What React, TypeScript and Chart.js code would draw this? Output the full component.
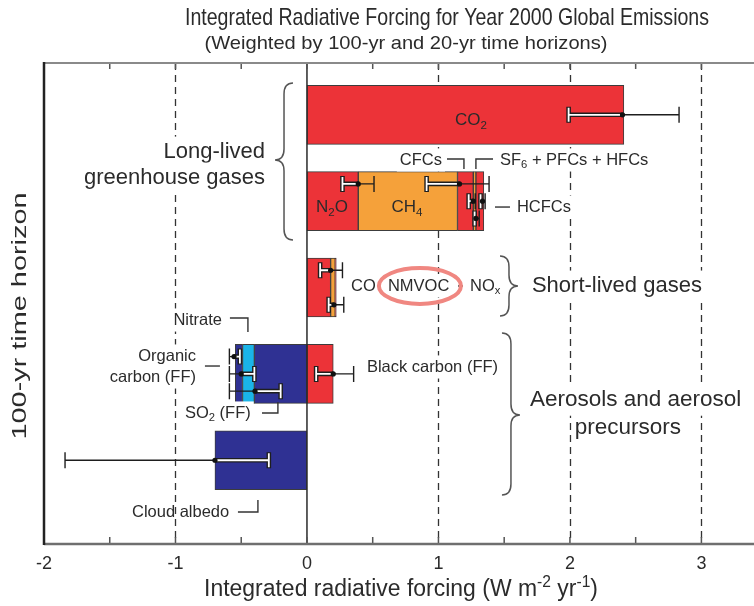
import React, { useEffect, useRef } from 'react';
import { Chart, registerables } from 'chart.js';

Chart.register(...registerables);

// ---------------- data ----------------
const rowNames = ['Carbon dioxide', 'Long-lived greenhouse gases', 'Short-lived gases', 'Aerosols and aerosol precursors', 'Cloud albedo'];
const components = ['CO₂', 'N₂O', 'CH₄', 'CFCs', 'SF₆ + PFCs + HFCs', 'HCFCs', 'CO', 'NMVOC', 'NOₓ', 'SO₂ (FF)', 'Organic carbon (FF)', 'Nitrate', 'Black carbon (FF)', 'Cloud albedo'];
const componentRow = [0, 1, 1, 1, 1, 1, 2, 2, 2, 3, 3, 3, 3, 4];
const forcing = [2.41, 0.39, 0.755, 0.12, 0.02, 0.06, 0.18, 0.035, 0.008, -0.40, -0.09, -0.055, 0.20, -0.70];
const errLow: (number | null)[] = [1.99, 0.27, 0.91, 1.23, 1.275, 1.32, 0.10, 0.165, null, -0.59, -0.59, -0.59, 0.07, -1.84];
const errMid: (number | null)[] = [2.40, 0.39, 1.16, 1.265, 1.285, 1.335, 0.18, 0.205, null, -0.395, -0.50, -0.555, 0.20, -0.70];
const errHigh: (number | null)[] = [2.83, 0.51, 1.385, 1.28, 1.31, 1.355, 0.27, 0.28, null, -0.20, -0.40, -0.51, 0.355, -0.29];
const errLane = [0, -1, -1, 0, 1, 0, -1, 1, 0, 1, 0, -1, 0, 0];
const xTicks = [-2, -1, 0, 1, 2, 3];
const dashedAt = [-1, 1, 2, 3];

const RED = '#ec3338';
const ORANGE = '#f5a13a';
const NAVY = '#2f3193';
const CYAN = '#1ab4e8';
const componentColor = [RED, RED, ORANGE, RED, ORANGE, RED, RED, ORANGE, RED, NAVY, CYAN, NAVY, RED, NAVY];

const TITLE = 'Integrated Radiative Forcing for Year 2000 Global Emissions';
const SUBTITLE = '(Weighted by 100-yr and 20-yr time horizons)';
const X_TITLE = 'Integrated radiative forcing (W m^{-2} yr^{-1})';
const Y_TITLE = '100-yr time horizon';

// annotation texts in data coordinates (x: forcing value, y: row position)
type Note = { text: string; x: number; y: number; size: number; align: 'left' | 'center' | 'right'; bg?: boolean };
const notes: Note[] = [
  { text: 'Long-lived', x: -0.319, y: 0.431, size: 22, align: 'right', bg: true },
  { text: 'greenhouse gases', x: -0.319, y: 0.732, size: 22, align: 'right', bg: true },
  { text: 'CO_2', x: 1.247, y: 0.06, size: 17, align: 'center' },
  { text: 'CFCs', x: 1.027, y: 0.523, size: 16.5, align: 'right', bg: true },
  { text: 'SF_6 + PFCs + HFCs', x: 1.468, y: 0.523, size: 16.5, align: 'left', bg: true },
  { text: 'HCFCs', x: 1.597, y: 1.068, size: 16.5, align: 'left', bg: true },
  { text: 'N_2O', x: 0.19, y: 1.068, size: 17, align: 'center' },
  { text: 'CH_4', x: 0.76, y: 1.068, size: 17, align: 'center' },
  { text: 'CO', x: 0.335, y: 1.982, size: 16.5, align: 'left', bg: true },
  { text: 'NMVOC', x: 0.616, y: 1.982, size: 16.5, align: 'left', bg: true },
  { text: 'NO_x', x: 1.24, y: 1.982, size: 16.5, align: 'left', bg: true },
  { text: 'Short-lived gases', x: 1.711, y: 1.982, size: 22, align: 'left', bg: true },
  { text: 'Nitrate', x: -0.646, y: 2.376, size: 16.5, align: 'right', bg: true },
  { text: 'Organic', x: -0.844, y: 2.793, size: 16.5, align: 'right', bg: true },
  { text: 'carbon (FF)', x: -0.844, y: 3.036, size: 16.5, align: 'right', bg: true },
  { text: 'SO_2 (FF)', x: -0.928, y: 3.453, size: 16.5, align: 'left', bg: true },
  { text: 'Black carbon (FF)', x: 0.456, y: 2.92, size: 16.5, align: 'left', bg: true },
  { text: 'Cloud albedo', x: -1.331, y: 4.599, size: 16.5, align: 'left' },
  { text: 'Aerosols and aerosol', x: 1.696, y: 3.302, size: 22.5, align: 'left', bg: true },
  { text: 'precursors', x: 2.441, y: 3.627, size: 22.5, align: 'center', bg: true },
];

// leader lines (polylines in data coordinates)
const leaders: [number, number][][] = [
  [[1.065, 0.512], [1.194, 0.512], [1.194, 0.627]],
  [[1.415, 0.512], [1.285, 0.512], [1.285, 0.627]],
  [[1.43, 1.068], [1.544, 1.068]],
  [[1.149, 1.982], [1.187, 1.982]],
  [[-0.586, 2.353], [-0.449, 2.353], [-0.449, 2.515]],
  [[-0.776, 2.909], [-0.662, 2.909]],
  [[-0.342, 3.453], [-0.221, 3.453], [-0.221, 3.326]],
  [[-0.525, 4.599], [-0.373, 4.599], [-0.373, 4.461]],
];

// braces: back x, tip x, y top, y bottom, tip y
const braces: [number, number, number, number, number][] = [
  [-0.106, -0.243, -0.368, 1.45, 0.523],
  [1.468, 1.605, 1.635, 2.33, 1.982],
  [1.483, 1.62, 2.527, 4.403, 3.476],
];

// highlight ellipse around NMVOC: centre x, centre y, radius x, radius y
const highlight = { x: 0.859, y: 1.982, rx: 0.312, ry: 0.208 };

// ---------------- drawing helpers ----------------
const FAM = '"Liberation Sans", Arial, Helvetica, sans-serif';
const TEXT = '#2b2b2b';

type Tok = { t: string; m: 'n' | 'sub' | 'sup' };
function parseRich(s: string): Tok[] {
  const out: Tok[] = [];
  const re = /_\{([^}]*)\}|\^\{([^}]*)\}|_(.)|\^(.)/g;
  let last = 0;
  let m: RegExpExecArray | null;
  while ((m = re.exec(s))) {
    if (m.index > last) out.push({ t: s.slice(last, m.index), m: 'n' });
    if (m[1] !== undefined) out.push({ t: m[1], m: 'sub' });
    else if (m[2] !== undefined) out.push({ t: m[2], m: 'sup' });
    else if (m[3] !== undefined) out.push({ t: m[3], m: 'sub' });
    else if (m[4] !== undefined) out.push({ t: m[4], m: 'sup' });
    last = re.lastIndex;
  }
  if (last < s.length) out.push({ t: s.slice(last), m: 'n' });
  return out;
}

type RichOpts = { size: number; align?: 'left' | 'center' | 'right'; color?: string; bg?: boolean; fitW?: number; rotate?: number };
function drawRich(ctx: CanvasRenderingContext2D, s: string, x: number, y: number, o: RichOpts) {
  const toks = parseRich(s);
  const size = o.size;
  const widths = toks.map((tk) => {
    ctx.font = `${tk.m === 'n' ? size : size * 0.68}px ${FAM}`;
    return ctx.measureText(tk.t).width;
  });
  const W = widths.reduce((a, b) => a + b, 0);
  const sx = o.fitW ? o.fitW / W : 1;
  const align = o.align || 'left';
  ctx.save();
  ctx.translate(x, y);
  if (o.rotate) ctx.rotate(o.rotate);
  ctx.scale(sx, 1);
  let cx = align === 'left' ? 0 : align === 'center' ? -W / 2 : -W;
  if (o.bg) {
    ctx.fillStyle = '#ffffff';
    ctx.fillRect(cx - 3, -size * 0.7, W + 6, size * 1.4);
  }
  ctx.fillStyle = o.color || TEXT;
  ctx.textBaseline = 'middle';
  ctx.textAlign = 'left';
  toks.forEach((tk, i) => {
    const fs = tk.m === 'n' ? size : size * 0.68;
    ctx.font = `${fs}px ${FAM}`;
    const dy = tk.m === 'sub' ? size * 0.32 : tk.m === 'sup' ? -size * 0.32 : 0;
    ctx.fillText(tk.t, cx, dy);
    cx += widths[i];
  });
  ctx.restore();
}

const decor = {
  id: 'decor',
  beforeDatasetsDraw(chart: any) {
    const { ctx, chartArea: a, scales } = chart;
    const xs = scales.x;
    ctx.save();
    ctx.strokeStyle = '#333';
    ctx.lineWidth = 1.3;
    ctx.setLineDash([7, 5]);
    dashedAt.forEach((v) => {
      const px = Math.round(xs.getPixelForValue(v)) + 0.5;
      ctx.beginPath();
      ctx.moveTo(px, a.top);
      ctx.lineTo(px, a.bottom);
      ctx.stroke();
    });
    ctx.restore();
  },
  afterDatasetsDraw(chart: any) {
    const { ctx, chartArea: a, scales } = chart;
    const xs = scales.x;
    const ys = scales.y;
    const X = (v: number) => xs.getPixelForValue(v);
    const Y = (v: number) => ys.getPixelForValue(v);

    ctx.save();
    // zero line
    ctx.strokeStyle = '#2a2a2a';
    ctx.lineWidth = 1.5;
    ctx.beginPath();
    ctx.moveTo(X(0), a.top);
    ctx.lineTo(X(0), a.bottom);
    ctx.stroke();

    // tick marks top and bottom every 0.5
    ctx.strokeStyle = '#555';
    ctx.lineWidth = 1.5;
    for (let v = xs.min; v <= xs.max + 1e-9; v += 0.5) {
      const px = X(v);
      ctx.beginPath();
      ctx.moveTo(px, a.top);
      ctx.lineTo(px, a.top + 6);
      ctx.moveTo(px, a.bottom);
      ctx.lineTo(px, a.bottom - 7);
      ctx.stroke();
    }
    // frame
    ctx.strokeStyle = '#8a8a8a';
    ctx.lineWidth = 2;
    ctx.beginPath();
    ctx.moveTo(a.left, a.top);
    ctx.lineTo(a.right, a.top);
    ctx.stroke();
    ctx.strokeStyle = '#6f6f6f';
    ctx.lineWidth = 2.5;
    ctx.beginPath();
    ctx.moveTo(a.left, a.bottom);
    ctx.lineTo(a.right, a.bottom);
    ctx.stroke();
    ctx.strokeStyle = '#222';
    ctx.lineWidth = 2.5;
    ctx.beginPath();
    ctx.moveTo(a.left, a.top - 1);
    ctx.lineTo(a.left, a.bottom + 1);
    ctx.stroke();

    // error bars
    const capH = 16;
    const laneStep = 0.2;
    components.forEach((_, i) => {
      const lo = errLow[i], mid = errMid[i], hi = errHigh[i];
      if (lo == null || mid == null || hi == null) return;
      const py = Y(componentRow[i] + errLane[i] * laneStep);
      const nearV = Math.abs(lo) < Math.abs(hi) ? lo : hi;
      const farV = nearV === lo ? hi : lo;
      const pm = X(mid), pn = X(nearV), pf = X(farV);
      ctx.strokeStyle = '#1e1e1e';
      ctx.lineWidth = 1.4;
      ctx.beginPath();
      ctx.moveTo(pm, py);
      ctx.lineTo(pf, py);
      ctx.moveTo(pf, py - capH / 2);
      ctx.lineTo(pf, py + capH / 2);
      ctx.stroke();
      ctx.lineWidth = 4.6;
      ctx.beginPath();
      ctx.moveTo(pm, py);
      ctx.lineTo(pn, py);
      ctx.moveTo(pn, py - capH / 2);
      ctx.lineTo(pn, py + capH / 2);
      ctx.stroke();
      ctx.strokeStyle = '#ffffff';
      ctx.lineWidth = 1.8;
      ctx.beginPath();
      ctx.moveTo(pm, py);
      ctx.lineTo(pn, py);
      ctx.moveTo(pn, py - capH / 2 + 1);
      ctx.lineTo(pn, py + capH / 2 - 1);
      ctx.stroke();
      ctx.fillStyle = '#111';
      ctx.beginPath();
      ctx.arc(pm, py, 2.6, 0, Math.PI * 2);
      ctx.fill();
    });

    // braces
    ctx.strokeStyle = '#555';
    ctx.lineWidth = 1.5;
    braces.forEach(([bx, tx, y1v, y2v, tyv]) => {
      const xb = X(bx), xt = X(tx), y1 = Y(y1v), y2 = Y(y2v), ty = Y(tyv);
      const xm = (xb + xt) / 2;
      const r = 11;
      ctx.beginPath();
      ctx.moveTo(xb, y1);
      ctx.quadraticCurveTo(xm, y1, xm, y1 + r);
      ctx.lineTo(xm, ty - r);
      ctx.quadraticCurveTo(xm, ty, xt, ty);
      ctx.quadraticCurveTo(xm, ty, xm, ty + r);
      ctx.lineTo(xm, y2 - r);
      ctx.quadraticCurveTo(xm, y2, xb, y2);
      ctx.stroke();
    });

    // texts
    notes.forEach((n) => {
      drawRich(ctx, n.text, X(n.x), Y(n.y), { size: n.size, align: n.align, bg: n.bg });
    });

    // leaders
    ctx.strokeStyle = '#333';
    ctx.lineWidth = 1.4;
    leaders.forEach((pts) => {
      ctx.beginPath();
      pts.forEach(([vx, vy], k) => {
        if (k === 0) ctx.moveTo(X(vx), Y(vy));
        else ctx.lineTo(X(vx), Y(vy));
      });
      ctx.stroke();
    });

    // highlight ellipse
    ctx.strokeStyle = '#f08781';
    ctx.lineWidth = 4;
    ctx.beginPath();
    const ecx = X(highlight.x), ecy = Y(highlight.y);
    const erx = X(highlight.x + highlight.rx) - ecx;
    const ery = Math.abs(Y(highlight.y + highlight.ry) - ecy);
    ctx.ellipse(ecx, ecy, erx, ery, 0, 0, Math.PI * 2);
    ctx.stroke();

    // tick labels
    xTicks.forEach((v) => {
      drawRich(ctx, String(v), X(v), a.bottom + 20, { size: 18, align: 'center' });
    });

    // titles
    drawRich(ctx, TITLE, 447, 18, { size: 24, align: 'center', fitW: 524 });
    drawRich(ctx, SUBTITLE, 406, 44, { size: 19, align: 'center', fitW: 403 });
    drawRich(ctx, X_TITLE, 401, 590, { size: 23, align: 'center', fitW: 394 });
    drawRich(ctx, Y_TITLE, 20, 316, { size: 21, align: 'center', fitW: 247, rotate: -Math.PI / 2 });
    ctx.restore();
  },
};

export default function App() {
  const ref = useRef<HTMLCanvasElement | null>(null);
  useEffect(() => {
    if (!ref.current) return;
    const datasets = components.map((name, i) => ({
      label: name,
      data: [{ x: forcing[i], y: componentRow[i] }],
      backgroundColor: componentColor[i],
      borderColor: '#3c3c3c',
      borderWidth: 1,
      borderSkipped: false,
      barThickness: 59,
    }));
    const chart = new Chart(ref.current, {
      type: 'bar',
      data: { datasets } as any,
      options: {
        indexAxis: 'y',
        animation: false,
        responsive: false,
        layout: { padding: { left: 44, right: 0, top: 63, bottom: 62 } },
        plugins: { legend: { display: false }, tooltip: { enabled: false }, title: { display: false } },
        scales: {
          x: { type: 'linear', min: -2, max: 3.4, stacked: true, display: false, offset: false },
          y: { type: 'linear', min: -0.6, max: 4.97, reverse: true, stacked: true, display: false, offset: false, grid: { offset: false } },
        },
      } as any,
      plugins: [decor],
    });
    return () => chart.destroy();
  }, []);
  return (
    <div style={{ position: 'absolute', left: 0, top: 0, width: 754, height: 606, background: '#fff' }}>
      <canvas ref={ref} width={754} height={606} style={{ display: 'block' }} aria-label={rowNames.join(', ')} />
    </div>
  );
}
